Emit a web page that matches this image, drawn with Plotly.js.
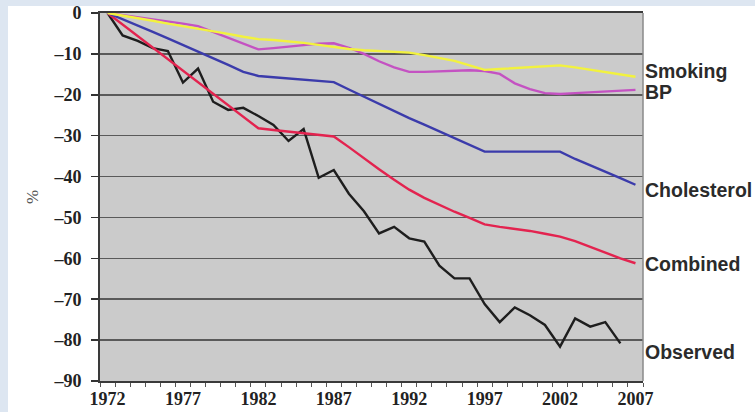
<!DOCTYPE html>
<html>
<head>
<meta charset="utf-8">
<script src="https://cdn.plot.ly/plotly-3.0.1.min.js"></script>
<style>
html,body{margin:0;padding:0;background:#dde6f1;width:755px;height:412px;overflow:hidden;}
#bg{position:absolute;left:8px;top:6px;width:747px;height:406px;background:#ffffff;}
#chart{position:absolute;left:0;top:0;width:755px;height:412px;}
</style>
</head>
<body>
<div id="bg"></div>
<div id="chart"></div>
<script>
const years = [1972,1973,1974,1975,1976,1977,1978,1979,1980,1981,1982,1983,1984,1985,1986,1987,1988,1989,1990,1991,1992,1993,1994,1995,1996,1997,1998,1999,2000,2001,2002,2003,2004,2005,2006,2007];

const observed = [0,-5.5,-6.8,-8.6,-9.3,-17,-13.6,-21.7,-23.7,-23.2,-25.2,-27.4,-31.3,-28.4,-40.3,-38.4,-44.2,-48.5,-53.9,-52.3,-55.1,-55.9,-61.8,-64.9,-64.9,-71.2,-75.6,-72,-73.9,-76.3,-81.6,-74.7,-76.7,-75.6,-80.8,null];
const combined = [0,-2.8,-5.6,-8.4,-11.2,-14,-16.9,-19.7,-22.5,-25.3,-28.2,-28.6,-29,-29.4,-29.8,-30.2,-32.8,-35.6,-38.2,-40.8,-43.2,-45.2,-47,-48.6,-50.1,-51.7,-52.3,-52.8,-53.3,-54,-54.7,-55.8,-57.2,-58.7,-60,-61.2];
const cholesterol = [0,-1.5,-3,-4.6,-6.2,-7.8,-9.5,-11.1,-12.7,-14.4,-15.4,-15.7,-16,-16.3,-16.6,-16.9,-18.7,-20.5,-22.2,-24,-25.7,-27.3,-29,-30.7,-32.3,-33.9,-33.9,-33.9,-33.9,-33.9,-33.9,-35.7,-37.2,-38.8,-40.4,-42];
const bp = [0,-0.5,-1,-1.5,-2,-2.6,-3.2,-4.6,-6,-7.5,-8.9,-8.6,-8.2,-7.8,-7.5,-7.4,-8.5,-10,-11.8,-13.3,-14.4,-14.4,-14.3,-14.2,-14,-14.2,-14.9,-17.2,-18.6,-19.6,-19.8,-19.6,-19.4,-19.2,-19,-18.8];
const smoking = [0,-0.6,-1.3,-1.9,-2.6,-3.2,-3.9,-4.5,-5.1,-5.8,-6.4,-6.6,-6.9,-7.3,-7.8,-8.3,-8.8,-9.1,-9.3,-9.5,-9.7,-10.3,-11,-11.7,-12.8,-13.9,-13.7,-13.5,-13.2,-13,-12.8,-13.3,-13.9,-14.5,-15,-15.6];

const seriesNames = ['Observed','Combined','Cholesterol','BP','Smoking'];
const labelY = [-82.8,-61.3,-43.3,-19.4,-14.2];

const xTickVals = [1972,1977,1982,1987,1992,1997,2002,2007];
const xTickText = ['1972','1977','1982','1987','1992','1997','2002','2007'];
const yTickVals = [0,-10,-20,-30,-40,-50,-60,-70,-80,-90];
const yTickText = ['0','\u201310','\u201320','\u201330','\u201340','\u201350','\u201360','\u201370','\u201380','\u201390'];

const seriesData = [observed, combined, cholesterol, bp, smoking];
const colors = ['#1e1e1e','#e3234f','#3b3bab','#c452c2','#f2f23e'];

const traces = seriesData.map((d,i)=>({
  x: years, y: d, type:'scatter', mode:'lines', name: seriesNames[i],
  line:{color:colors[i], width:2.4}, connectgaps:false, hoverinfo:'skip'
}));

const annotations = seriesNames.map((n,i)=>({
  xref:'paper', yref:'y', x:1, y:labelY[i], xanchor:'left', yanchor:'middle',
  xshift:0, text:n, showarrow:false,
  font:{family:'Liberation Sans, Arial, sans-serif', size:19.5, color:'#2b2b2b', weight:'bold'}
}));

const serif = 'Liberation Serif, Times New Roman, serif';

const layout = {
  width:755, height:412,
  margin:{l:100, r:112, t:13, b:31},
  paper_bgcolor:'rgba(0,0,0,0)',
  plot_bgcolor:'#cbcbcb',
  showlegend:false,
  xaxis:{
    range:[1971.5,2007.5], tickvals:xTickVals, ticktext:xTickText,
    ticks:'', showgrid:false, zeroline:false,
    showline:true, linecolor:'#3a3a3a', linewidth:2, mirror:true,
    ticklabeloverflow:'allow',
    tickfont:{family:serif, size:18, color:'#222', weight:'bold'},
    minor:{tick0:1971.5, dtick:1, ticks:'outside', ticklen:4, tickcolor:'#555', showgrid:false},
    fixedrange:true
  },
  yaxis:{
    range:[-90,0], tickvals:yTickVals, ticktext:yTickText,
    ticks:'outside', ticklen:7, tickcolor:'#333', tickwidth:1.5,
    ticklabelstandoff:6, ticklabeloverflow:'allow',
    showgrid:true, gridcolor:'#5a5a5a', gridwidth:1.6,
    zeroline:false,
    showline:true, linecolor:'#3a3a3a', linewidth:2,
    tickfont:{family:serif, size:18, color:'#222', weight:'bold'},
    title:{text:'%', font:{family:serif, size:17, color:'#555'}, standoff:10},
    fixedrange:true
  },
  shapes:[{type:'line', xref:'paper', yref:'paper', x0:1, x1:1, y0:0, y1:1, line:{color:'#8a8a8a', width:1.5}}],
  annotations: annotations
};

Plotly.newPlot('chart', traces, layout, {displayModeBar:false, staticPlot:true});
</script>
</body>
</html>
